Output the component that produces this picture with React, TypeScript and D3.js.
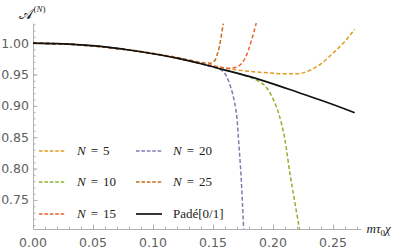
import { useEffect, useRef } from 'react'
import * as d3 from 'd3'

// chart values
const xTicks = [0, 0.05, 0.1, 0.15, 0.2, 0.25]
const yTicks = [0.75, 0.8, 0.85, 0.9, 0.95, 1.0]

const padeX = [0, 0.02, 0.04, 0.06, 0.08, 0.1, 0.12, 0.14, 0.16, 0.18, 0.2, 0.22, 0.24, 0.26, 0.268]
const padeY = [1.0, 0.999, 0.997, 0.994, 0.989, 0.983, 0.976, 0.967, 0.957, 0.947, 0.935, 0.922, 0.909, 0.895, 0.889]

const n5X = [0, 0.04, 0.08, 0.12, 0.14, 0.16, 0.18, 0.2, 0.21, 0.22, 0.23, 0.24, 0.25, 0.26, 0.268]
const n5Y = [1.0, 0.997, 0.989, 0.976, 0.968, 0.96, 0.955, 0.952, 0.951, 0.951, 0.956, 0.967, 0.984, 1.003, 1.022]

const n10X = [0, 0.04, 0.08, 0.12, 0.14, 0.16, 0.175, 0.185, 0.19, 0.195, 0.2, 0.205, 0.21, 0.214, 0.218, 0.222]
const n10Y = [1.0, 0.997, 0.989, 0.976, 0.967, 0.957, 0.949, 0.942, 0.937, 0.928, 0.911, 0.886, 0.845, 0.793, 0.748, 0.704]

const n15X = [0, 0.04, 0.08, 0.12, 0.14, 0.155, 0.165, 0.17, 0.174, 0.177, 0.1795, 0.182, 0.184, 0.186]
const n15Y = [1.0, 0.997, 0.989, 0.976, 0.968, 0.962, 0.96, 0.962, 0.968, 0.977, 0.989, 1.004, 1.017, 1.032]

const n20X = [0, 0.04, 0.08, 0.12, 0.14, 0.15, 0.156, 0.161, 0.165, 0.168, 0.17, 0.1715, 0.1733, 0.1755]
const n20Y = [1.0, 0.997, 0.989, 0.976, 0.967, 0.962, 0.958, 0.948, 0.928, 0.905, 0.879, 0.84, 0.79, 0.704]

const n25X = [0, 0.04, 0.08, 0.12, 0.13, 0.14, 0.148, 0.1517, 0.1535, 0.1553, 0.157, 0.1586]
const n25Y = [1.0, 0.997, 0.989, 0.977, 0.973, 0.969, 0.968, 0.973, 0.982, 0.994, 1.013, 1.031]

const seriesN = ['5', '10', '15', '20', '25']
const seriesColors = ['#e19c24', '#8fb131', '#eb6235', '#8778b3', '#c56e1a']
const seriesX = [n5X, n10X, n15X, n20X, n25X]
const seriesY = [n5Y, n10Y, n15Y, n20Y, n25Y]

const W = 399
const H = 249

export default function App() {
  const svgRef = useRef<SVGSVGElement>(null)

  useEffect(() => {
    if (!svgRef.current) return
    const svg = d3.select(svgRef.current)
    svg.selectAll('*').remove()

    const x = d3.scaleLinear().domain([0, 0.2733]).range([33, 361])
    const y = d3.scaleLinear().domain([0.7037, 1.032]).range([229, 23])

    const axisColor = '#b0b0b0'
    const labelColor = '#606060'
    const tickFont = 'DejaVu Sans, sans-serif'
    const serif = 'Liberation Serif, Times New Roman, serif'

    svg.append('rect').attr('width', W).attr('height', H).attr('fill', 'white')

    // clip for curves
    svg.append('defs')
      .append('clipPath')
      .attr('id', 'plot-clip')
      .append('rect')
      .attr('x', x(0))
      .attr('y', y(1.032))
      .attr('width', x(0.2733) - x(0))
      .attr('height', y(0.7037) - y(1.032))

    // X axis: minor ticks, major ticks, labels
    const xMinor = d3.range(0.01, 0.275, 0.01)
    svg.append('g')
      .attr('transform', `translate(0,${y(0.7037)})`)
      .call(d3.axisBottom(x).tickValues(xMinor).tickSize(-2.5).tickFormat(() => ''))
      .call((g) => g.select('.domain').remove())
      .selectAll('line')
      .attr('stroke', axisColor)

    svg.append('g')
      .attr('transform', `translate(0,${y(0.7037)})`)
      .call(d3.axisBottom(x).tickValues(xTicks).tickSizeInner(-4.5).tickSizeOuter(0).tickFormat(() => ''))
      .call((g) => g.select('.domain').attr('stroke', axisColor))
      .selectAll('line')
      .attr('stroke', axisColor)

    svg.append('g')
      .selectAll('text')
      .data(xTicks)
      .join('text')
      .attr('x', (d) => x(d))
      .attr('y', 246.5)
      .attr('text-anchor', 'middle')
      .attr('font-family', tickFont)
      .attr('font-size', 12.5)
      .attr('fill', labelColor)
      .text((d) => d3.format('.2f')(d))

    // Y axis
    const yMinor = d3.range(0.71, 1.035, 0.01)
    svg.append('g')
      .attr('transform', `translate(${x(0)},0)`)
      .call(d3.axisLeft(y).tickValues(yMinor).tickSize(-2.5).tickFormat(() => ''))
      .call((g) => g.select('.domain').remove())
      .selectAll('line')
      .attr('stroke', axisColor)

    svg.append('g')
      .attr('transform', `translate(${x(0)},0)`)
      .call(d3.axisLeft(y).tickValues(yTicks).tickSizeInner(-4.5).tickSizeOuter(0).tickFormat(() => ''))
      .call((g) => g.select('.domain').attr('stroke', axisColor))
      .selectAll('line')
      .attr('stroke', axisColor)

    svg.append('g')
      .selectAll('text')
      .data(yTicks)
      .join('text')
      .attr('x', 29)
      .attr('y', (d) => y(d))
      .attr('dy', '0.36em')
      .attr('text-anchor', 'end')
      .attr('font-family', tickFont)
      .attr('font-size', 12.5)
      .attr('fill', labelColor)
      .text((d) => d3.format('.2f')(d))

    // curves
    const line = d3
      .line<[number, number]>()
      .x((d) => x(d[0]))
      .y((d) => y(d[1]))
      .curve(d3.curveMonotoneX)

    const plot = svg.append('g').attr('clip-path', 'url(#plot-clip)')

    seriesN.forEach((_, i) => {
      const pts = seriesX[i].map((v, j) => [v, seriesY[i][j]] as [number, number])
      plot.append('path')
        .datum(pts)
        .attr('fill', 'none')
        .attr('stroke', seriesColors[i])
        .attr('stroke-width', 1.5)
        .attr('stroke-dasharray', '4,2.3')
        .attr('d', line)
    })

    const padePts = padeX.map((v, j) => [v, padeY[j]] as [number, number])
    plot.append('path')
      .datum(padePts)
      .attr('fill', 'none')
      .attr('stroke', '#111')
      .attr('stroke-width', 1.7)
      .attr('d', line)

    // axis labels
    const yl = svg.append('text')
      .attr('x', 19)
      .attr('y', 19)
      .attr('font-family', serif)
      .attr('fill', '#222')
    yl.append('tspan').attr('font-size', 15).text('𝒜')
    yl.append('tspan').attr('font-size', 9).attr('dx', 0.5).attr('dy', -7).text('(')
    yl.append('tspan').attr('font-size', 9).attr('font-style', 'italic').text('N')
    yl.append('tspan').attr('font-size', 9).text(')')

    const xl = svg.append('text')
      .attr('x', 366.5)
      .attr('y', 233)
      .attr('font-family', serif)
      .attr('font-size', 13)
      .attr('fill', '#222')
    xl.append('tspan').attr('font-style', 'italic').text('mτ')
    xl.append('tspan').attr('font-size', 9).attr('dy', 3).text('0')
    xl.append('tspan').attr('font-style', 'italic').attr('dy', -3).text('χ')

    // legend: N=5,10,15 in the left column, N=20,25,Padé in the right
    const legendColors = [...seriesColors, '#111']
    const colLine = [39, 136]
    const colText = [77, 173]
    const rowY = [151, 182, 214]
    legendColors.forEach((color, i) => {
      const col = i < 3 ? 0 : 1
      const ly = rowY[i % 3]
      svg.append('line')
        .attr('x1', colLine[col])
        .attr('x2', colLine[col] + 26)
        .attr('y1', ly)
        .attr('y2', ly)
        .attr('stroke', color)
        .attr('stroke-width', i === 5 ? 1.7 : 1.5)
        .attr('stroke-dasharray', i === 5 ? null : '3.6,1.8')

      const t = svg.append('text')
        .attr('x', colText[col])
        .attr('y', ly)
        .attr('dy', '0.33em')
        .attr('font-family', serif)
        .attr('font-size', 13)
        .attr('fill', '#222')
      if (i === 5) {
        t.text('Padé[0/1]')
      } else {
        t.append('tspan').attr('font-style', 'italic').text('N')
        t.append('tspan').attr('dx', 5).text('=')
        t.append('tspan').attr('dx', 5).text(seriesN[i])
      }
    })
  }, [])

  return (
    <svg
      ref={svgRef}
      width={W}
      height={H}
      style={{ position: 'absolute', left: 0, top: 0 }}
    />
  )
}
